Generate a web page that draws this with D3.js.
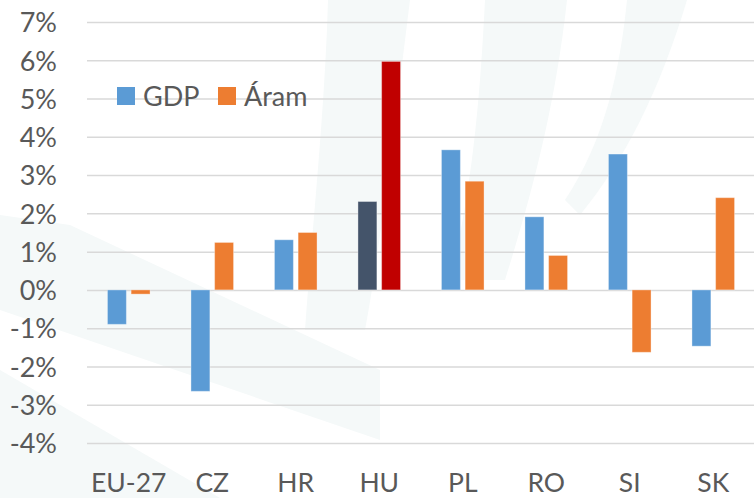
<!DOCTYPE html>
<html>
<head>
<meta charset="utf-8">
<script src="https://cdn.jsdelivr.net/npm/d3@7"></script>
<style>
  html, body { margin: 0; padding: 0; background: #fff; }
  svg { display: block; }
  text { font-family: Lato, "Noto Sans", sans-serif; fill: #595959; }
</style>
</head>
<body>
<svg id="chart" width="754" height="498"></svg>
<script>
const categories = ["EU-27", "CZ", "HR", "HU", "PL", "RO", "SI", "SK"];
const seriesNames = ["GDP", "Áram"];
const gdpValues  = [-0.90, -2.65, 1.31, 2.31, 3.66, 1.91, 3.55, -1.47];
const aramValues = [-0.11, 1.24, 1.50, 5.97, 2.84, 0.90, -1.63, 2.41];
const yTicks = [-4, -3, -2, -1, 0, 1, 2, 3, 4, 5, 6, 7];
const seriesColors = {"GDP": "#5B9BD5", "Áram": "#ED7D31"};
const highlight = "HU";
const highlightColors = {"GDP": "#44546A", "Áram": "#C00000"};

const svg = d3.select("#chart");
const W = 754, H = 498;
const plotLeft = 87, plotRight = 755, plotTop = 22, plotBottom = 443;

// faint watermark
const wm = svg.append("g").attr("fill", "#f5f9f9");
wm.append("path").attr("d", "M0,215 L70,225 L380,370 L380,440 L0,310 Z");
wm.append("path").attr("d", "M0,370 L220,498 L0,498 Z");
wm.append("path").attr("d", "M328,0 L410,0 C395,120 380,250 365,330 L305,330 C312,230 325,110 328,0 Z");
wm.append("path").attr("d", "M485,0 L567,0 C555,110 530,200 505,280 L450,280 C472,190 480,100 485,0 Z");
wm.append("path").attr("d", "M627,0 L687,0 C660,90 625,160 580,215 L565,200 C605,140 620,70 627,0 Z");

const y = d3.scaleLinear().domain([-4, 7]).range([plotBottom, plotTop]);
const x0 = d3.scaleBand().domain(categories).range([plotLeft, plotRight]).paddingInner(0.49).paddingOuter(0.245);
const x1 = d3.scaleBand().domain(seriesNames).range([0, x0.bandwidth()]).paddingInner(0.2);

// gridlines
svg.append("g")
  .attr("transform", `translate(${plotLeft},0)`)
  .call(d3.axisLeft(y).tickValues(yTicks).tickSize(-(W - plotLeft)).tickFormat(""))
  .call(g => g.select(".domain").remove())
  .call(g => g.selectAll(".tick line").attr("stroke", "#d9d9d9").attr("stroke-width", 1.5));

// y labels
svg.append("g")
  .attr("transform", `translate(57,0)`)
  .call(d3.axisLeft(y).tickValues(yTicks).tickSize(0).tickPadding(0).tickFormat(d => d + "%"))
  .call(g => g.select(".domain").remove())
  .call(g => g.selectAll("text").attr("font-size", 27).attr("fill", "#595959")
           .style("font-family", "Lato, 'Noto Sans', sans-serif").attr("dy", "0.36em"));

// bars
const rows = categories.map((c, i) => ({cat: c, vals: [
  {s: "GDP", v: gdpValues[i]}, {s: "Áram", v: aramValues[i]}]}));

const groups = svg.append("g").selectAll("g").data(rows).join("g")
  .attr("transform", d => `translate(${x0(d.cat)},0)`);
groups.selectAll("rect").data(d => d.vals.map(v => ({...v, cat: d.cat}))).join("rect")
  .attr("x", d => x1(d.s))
  .attr("width", x1.bandwidth())
  .attr("y", d => y(Math.max(0, d.v)))
  .attr("height", d => Math.abs(y(d.v) - y(0)))
  .attr("fill", d => d.cat === highlight ? highlightColors[d.s] : seriesColors[d.s])
  .attr("stroke", "#ffffff").attr("stroke-opacity", 0.35).attr("stroke-width", 1);

// x labels
svg.append("g")
  .attr("transform", `translate(0,492)`)
  .call(d3.axisBottom(x0).tickSize(0).tickPadding(0))
  .call(g => g.select(".domain").remove())
  .call(g => g.selectAll("text").attr("font-size", 26.5).attr("fill", "#595959")
           .style("font-family", "Lato, 'Noto Sans', sans-serif").attr("dy", 0));

// legend
const legend = svg.append("g");
const legendItems = [{s: "GDP", x: 117}, {s: "Áram", x: 218}];
legendItems.forEach(it => {
  legend.append("rect").attr("x", it.x).attr("y", 87).attr("width", 18).attr("height", 18)
    .attr("fill", seriesColors[it.s]);
  legend.append("text").attr("x", it.x + 26).attr("y", 106).attr("font-size", 27)
    .attr("fill", "#595959").text(it.s);
});
</script>
</body>
</html>
